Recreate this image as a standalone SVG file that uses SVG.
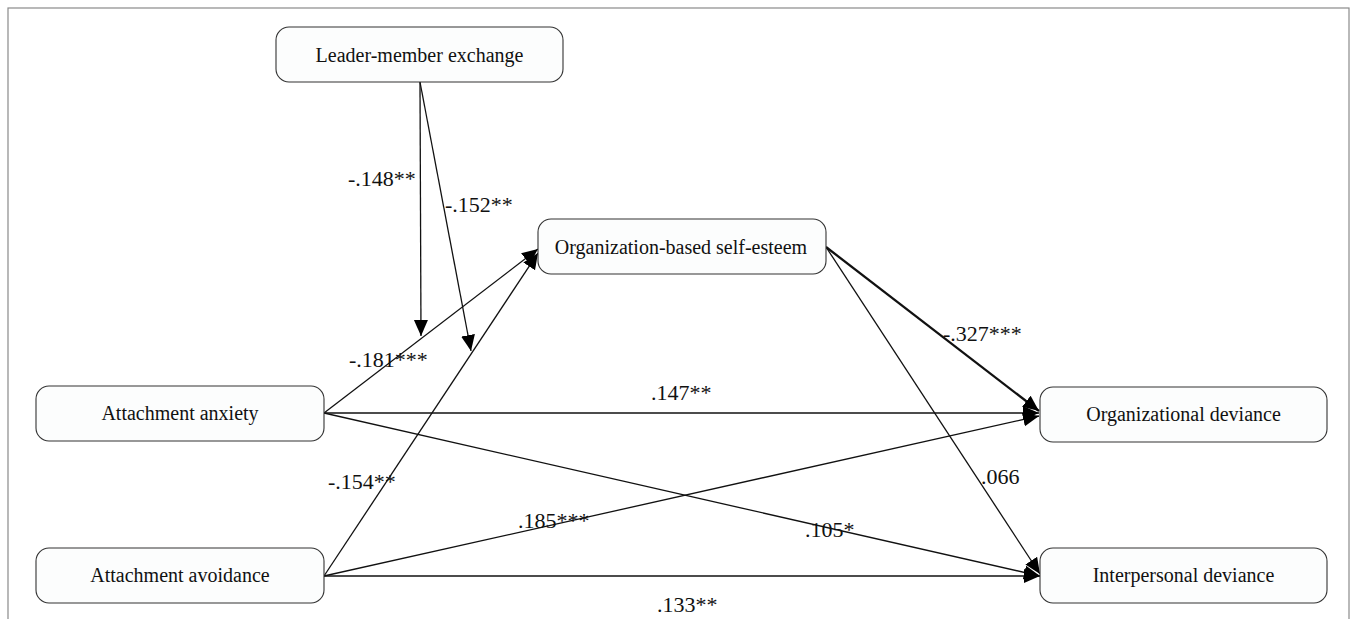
<svg xmlns="http://www.w3.org/2000/svg" width="1354" height="619" viewBox="0 0 1354 619">
<style>
.node rect{fill:#fcfdfd;stroke:#333;stroke-width:1.1}
.node text{font-family:"Liberation Serif","Times New Roman",serif;font-size:20px;fill:#111;text-anchor:middle}
.edge{stroke:#111;stroke-width:1.3;fill:none;marker-end:url(#ah)}
.thick{stroke-width:2.3}
.lbl{font-family:"Liberation Serif","Times New Roman",serif;font-size:22px;fill:#111}
</style>
<defs>
<marker id="ah" markerUnits="userSpaceOnUse" markerWidth="17" markerHeight="15" refX="16" refY="7" orient="auto" viewBox="0 0 17 15">
<path d="M0,0 L16,7 L0,14 Z" fill="#000"/>
</marker>
</defs>
<rect x="0" y="0" width="1354" height="619" fill="#fff"/>
<rect x="8" y="8" width="1341" height="640" fill="none" stroke="#8a8a8a" stroke-width="1.2"/>

<g id="connectors">
<line class="edge" x1="420" y1="82" x2="421" y2="336"/>
<line class="edge" x1="420" y1="82" x2="471" y2="351"/>
<line class="edge" x1="324" y1="413" x2="538" y2="249"/>
<line class="edge" x1="324" y1="576" x2="538" y2="253"/>
<line class="edge" x1="324" y1="413" x2="1039" y2="413"/>
<line class="edge" x1="324" y1="413" x2="1040" y2="576"/>
<line class="edge" x1="324" y1="576" x2="1039" y2="416"/>
<line class="edge" x1="324" y1="576" x2="1040" y2="576"/>
<line class="edge thick" x1="826" y1="247" x2="1039" y2="411"/>
<line class="edge" x1="826" y1="247" x2="1040" y2="574"/>
</g>

<g id="labels">
<text class="lbl" x="348" y="186">-.148**</text>
<text class="lbl" x="445" y="212">-.152**</text>
<text class="lbl" x="349" y="367">-.181***</text>
<text class="lbl" x="328" y="489">-.154**</text>
<text class="lbl" x="651" y="400">.147**</text>
<text class="lbl" x="805" y="537">.105*</text>
<text class="lbl" x="518" y="528">.185***</text>
<text class="lbl" x="657" y="612">.133**</text>
<text class="lbl" x="943" y="341">-.327***</text>
<text class="lbl" x="981" y="484">.066</text>
</g>

<g id="lmx" class="node">
<rect x="276" y="27" width="287" height="55" rx="13"/>
<text x="419.5" y="61.5">Leader-member exchange</text>
</g>
<g id="obse" class="node">
<rect x="538" y="219" width="288" height="55" rx="13"/>
<text x="681" y="253.5">Organization-based self-esteem</text>
</g>
<g id="anxiety" class="node">
<rect x="36" y="386" width="288" height="55" rx="13"/>
<text x="180" y="420">Attachment anxiety</text>
</g>
<g id="avoidance" class="node">
<rect x="36" y="548" width="288" height="55" rx="13"/>
<text x="180" y="582">Attachment avoidance</text>
</g>
<g id="orgdev" class="node">
<rect x="1040" y="387" width="287" height="55" rx="13"/>
<text x="1183.5" y="421">Organizational deviance</text>
</g>
<g id="interdev" class="node">
<rect x="1040" y="548" width="287" height="55" rx="13"/>
<text x="1183.5" y="582">Interpersonal deviance</text>
</g>
</svg>
